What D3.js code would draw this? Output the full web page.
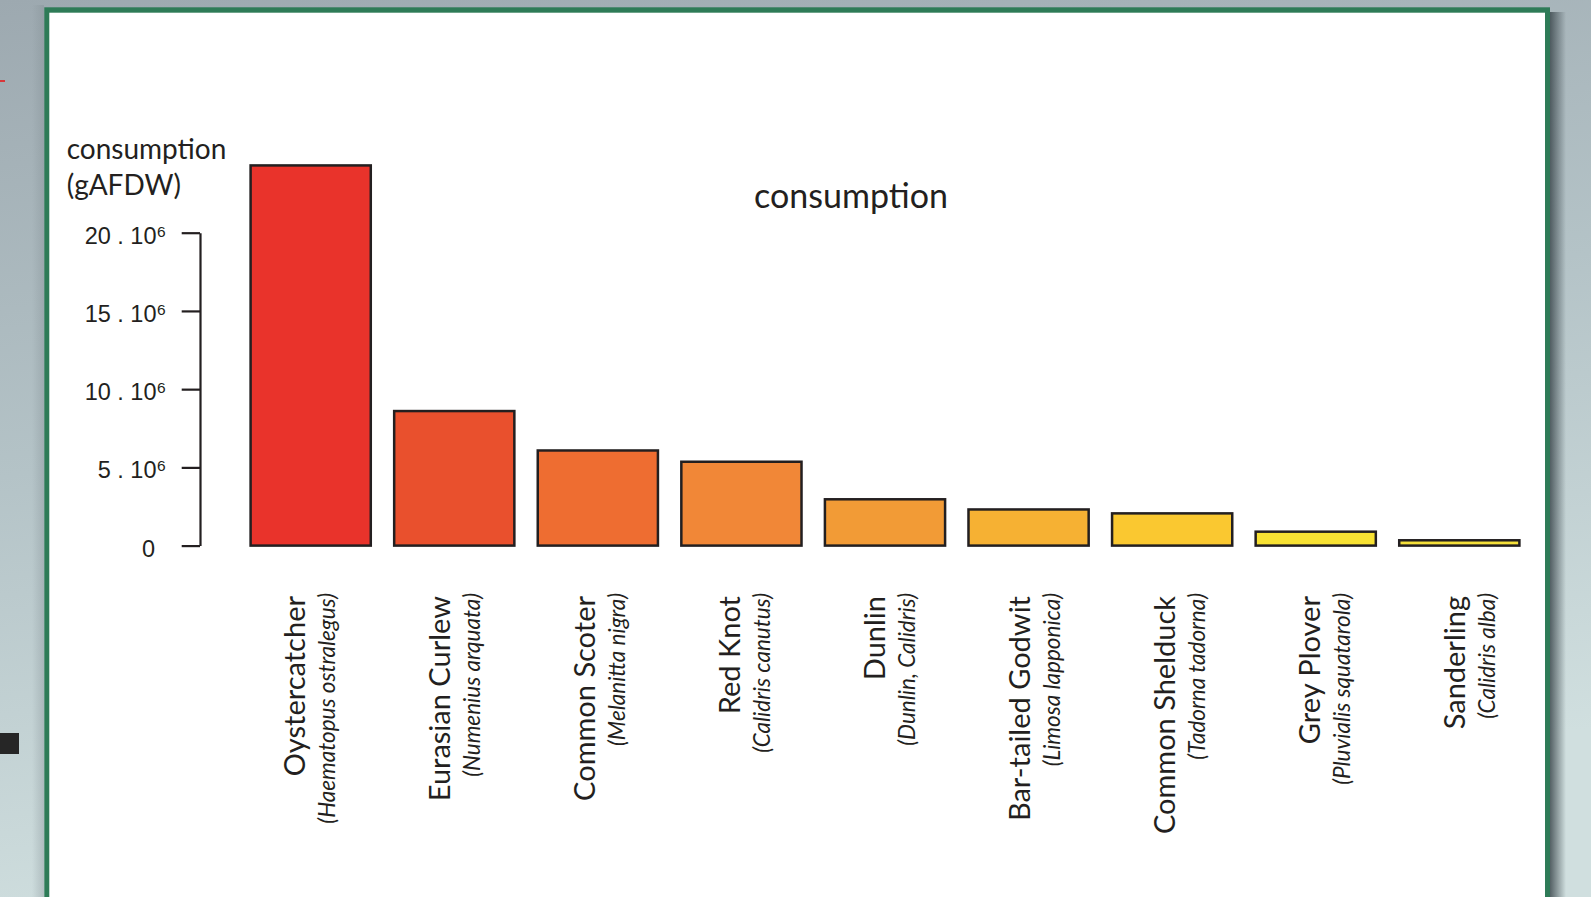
<!DOCTYPE html>
<html>
<head>
<meta charset="utf-8">
<script src="https://cdn.jsdelivr.net/npm/d3@7"></script>
<style>
  html, body { margin: 0; padding: 0; overflow: hidden; }
  body { width: 1591px; height: 897px; }
  svg { display: block; font-family: Lato, "Open Sans", sans-serif; }
</style>
</head>
<body>
<svg id="chart" width="1591" height="897"></svg>
<script>
// ---- data ----
const commonNames = ["Oystercatcher", "Eurasian Curlew", "Common Scoter", "Red Knot", "Dunlin",
  "Bar-tailed Godwit", "Common Shelduck", "Grey Plover", "Sanderling"];
const scientificNames = ["(Haematopus ostralegus)", "(Numenius arquata)", "(Melanitta nigra)",
  "(Calidris canutus)", "(Dunlin, Calidris)", "(Limosa lapponica)", "(Tadorna tadorna)",
  "(Pluvialis squatarola)", "(Calidris alba)"];
const consumption = [24.3e6, 8.6e6, 6.08e6, 5.36e6, 2.96e6, 2.31e6, 2.06e6, 0.89e6, 0.34e6];
const barColors = ["#e9332b", "#e9502d", "#ee6d31", "#f18737", "#f29b36", "#f6b133", "#fac830", "#f8e233", "#f5e03a"];
const tickValues = [0, 5e6, 10e6, 15e6, 20e6];
const tickBase = ["0", "5 . 10", "10 . 10", "15 . 10", "20 . 10"];
const tickExp = ["", "6", "6", "6", "6"];
const chartTitle = "consumption";
const yTitle = ["consumption", "(gAFDW)"];

const svg = d3.select("#chart");
const ink = "#231f20";

// ---- background ----
const defs = svg.append("defs");
const bg = defs.append("linearGradient").attr("id", "bg").attr("x1", 0).attr("y1", 0).attr("x2", 0.25).attr("y2", 1);
bg.append("stop").attr("offset", "0%").attr("stop-color", "#9da9b0");
bg.append("stop").attr("offset", "50%").attr("stop-color", "#b4c3c7");
bg.append("stop").attr("offset", "100%").attr("stop-color", "#d0dfdf");
svg.append("rect").attr("width", 1591).attr("height", 897).attr("fill", "url(#bg)");

const shR = defs.append("linearGradient").attr("id", "shR").attr("x1", 0).attr("x2", 1).attr("y1", 0).attr("y2", 0);
shR.append("stop").attr("offset", "0%").attr("stop-color", "#3e4a4f").attr("stop-opacity", 0.85);
shR.append("stop").attr("offset", "100%").attr("stop-color", "#3e4a4f").attr("stop-opacity", 0);
svg.append("rect").attr("x", 1550).attr("y", 12).attr("width", 16).attr("height", 885).attr("fill", "url(#shR)");
const shL = defs.append("linearGradient").attr("id", "shL").attr("x1", 1).attr("x2", 0).attr("y1", 0).attr("y2", 0);
shL.append("stop").attr("offset", "0%").attr("stop-color", "#7d8a8f").attr("stop-opacity", 0.35);
shL.append("stop").attr("offset", "100%").attr("stop-color", "#7d8a8f").attr("stop-opacity", 0);
svg.append("rect").attr("x", 32).attr("y", 5).attr("width", 12).attr("height", 892).attr("fill", "url(#shL)");

// small marks at the left edge
svg.append("rect").attr("x", 0).attr("y", 80).attr("width", 5).attr("height", 2).attr("fill", "#d8373a");
svg.append("rect").attr("x", 0).attr("y", 733).attr("width", 19).attr("height", 21).attr("fill", "#262626");

// frame
svg.append("rect").attr("x", 44.3).attr("y", 7.3).attr("width", 1505.7).attr("height", 910).attr("fill", "#2e7b57");
svg.append("rect").attr("x", 49.3).attr("y", 12.7).attr("width", 1495.7).attr("height", 900).attr("fill", "#ffffff");

// ---- scales ----
const x = d3.scaleBand().domain(commonNames).range([250.6, 1519.4]).paddingInner(0.163).paddingOuter(0);
const y = d3.scaleLinear().domain([0, 20e6]).range([545.6, 232.7]);
// label baselines are spaced a little wider than the bars
const xLab = d3.scalePoint().domain(commonNames).range([305, 1465]);

// ---- bars ----
svg.append("g").selectAll("rect").data(commonNames).join("rect")
  .attr("x", d => x(d))
  .attr("width", x.bandwidth())
  .attr("y", (d, i) => y(consumption[i]))
  .attr("height", (d, i) => y(0) - y(consumption[i]))
  .attr("fill", (d, i) => barColors[i])
  .attr("stroke", ink)
  .attr("stroke-width", 2.5);

// ---- y axis ----
const axisX = 200;
const gAxis = svg.append("g").attr("transform", `translate(${axisX},0)`)
  .call(d3.axisLeft(y).tickValues(tickValues).tickSize(18.3).tickSizeOuter(0).tickFormat(""));
gAxis.select(".domain").attr("stroke", ink).attr("stroke-width", 2.2);
gAxis.selectAll(".tick line").attr("stroke", ink).attr("stroke-width", 2.2);
gAxis.selectAll(".tick text").remove();
gAxis.selectAll(".tick").each(function(d) {
  const i = tickValues.indexOf(d);
  const t = d3.select(this);
  t.append("text")
    .attr("x", tickExp[i] ? -43.5 : -45).attr("y", 10.6)
    .attr("text-anchor", "end")
    .attr("fill", ink)
    .style("font-size", "23.5px")
    .text(tickBase[i]);
  if (tickExp[i]) {
    t.append("text")
      .attr("x", -43).attr("y", 3.5)
      .attr("text-anchor", "start")
      .attr("fill", ink)
      .style("font-size", "15.5px")
      .text(tickExp[i]);
  }
});

// axis title
svg.append("text").attr("x", 66.7).attr("y", 159.3).attr("fill", ink).style("font-size", "28px").text(yTitle[0]);
svg.append("text").attr("x", 66.7).attr("y", 195).attr("fill", ink).style("font-size", "28px").text(yTitle[1]);

// chart title
svg.append("text").attr("x", 851).attr("y", 208).attr("text-anchor", "middle")
  .attr("fill", ink).style("font-size", "34px").text(chartTitle);

// ---- category labels (rotated) ----
const gLab = svg.append("g");
commonNames.forEach((name, i) => {
  const bx = xLab(name);
  gLab.append("text")
    .attr("transform", `translate(${bx},596) rotate(-90)`)
    .attr("text-anchor", "end")
    .attr("fill", ink)
    .style("font-size", "29px")
    .text(name);
  gLab.append("text")
    .attr("transform", `translate(${bx + 29.5},593) rotate(-90)`)
    .attr("text-anchor", "end")
    .attr("fill", ink)
    .style("font-size", "22.5px")
    .style("font-style", "italic")
    .text(scientificNames[i]);
});
</script>
</body>
</html>
